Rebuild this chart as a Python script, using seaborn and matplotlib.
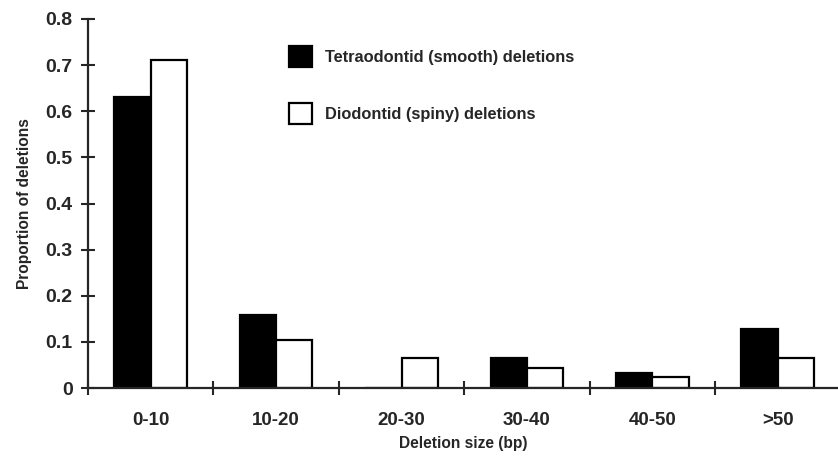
import matplotlib
matplotlib.use("Agg")
import matplotlib.pyplot as plt
import seaborn as sns
import pandas as pd
from matplotlib.patches import Patch

categories = ["0-10", "10-20", "20-30", "30-40", "40-50", ">50"]
series_names = ["Tetraodontid (smooth) deletions", "Diodontid (spiny) deletions"]
tetraodontid = [0.63, 0.158, 0.0, 0.065, 0.032, 0.128]
diodontid = [0.71, 0.105, 0.065, 0.043, 0.024, 0.065]
y_ticks = [0, 0.1, 0.2, 0.3, 0.4, 0.5, 0.6, 0.7, 0.8]
y_tick_labels = ["0", "0.1", "0.2", "0.3", "0.4", "0.5", "0.6", "0.7", "0.8"]

df = pd.DataFrame({
    "size": categories * 2,
    "prop": tetraodontid + diodontid,
    "series": [series_names[0]] * len(categories) + [series_names[1]] * len(categories),
})

sns.set_style("ticks")
plt.rcParams["font.family"] = ["Liberation Sans", "DejaVu Sans"]
plt.rcParams["font.weight"] = "bold"

fig = plt.figure(figsize=(8.38, 4.62), dpi=100)
ax = fig.add_axes([0.105, 0.16, 0.895, 0.799])

sns.barplot(data=df, x="size", y="prop", hue="series", order=categories,
            hue_order=series_names, palette=["black", "white"],
            width=0.58, edgecolor="black", linewidth=1.6, ax=ax, legend=False,
            errorbar=None, saturation=1)

ax.set_xlim(-0.5, 5.48)
ax.set_ylim(0, 0.8)
ax.set_yticks(y_ticks)
ax.set_yticklabels(y_tick_labels, fontsize=14, fontweight="bold")

# boundaries as major ticks, labels on minor ticks at category centres
ax.set_xticks([i - 0.5 for i in range(len(categories))])
ax.set_xticklabels([])
ax.set_xticks(list(range(len(categories))), minor=True)
ax.set_xticklabels(categories, minor=True, fontsize=13.5, fontweight="bold")
ax.tick_params(axis="x", which="minor", length=0, pad=17)
ax.tick_params(axis="x", which="major", direction="inout", length=10, width=1.5)
ax.tick_params(axis="y", direction="inout", length=10, width=1.5, pad=6)

for s in ["top", "right"]:
    ax.spines[s].set_visible(False)
for s in ["left", "bottom"]:
    ax.spines[s].set_linewidth(1.6)

ax.set_xlabel("Deletion size (bp)", fontsize=11.2, fontweight="bold", labelpad=5)
ax.set_ylabel("Proportion of deletions", fontsize=11.2, fontweight="bold", labelpad=10)

handles = [Patch(facecolor="black", edgecolor="black", linewidth=1.6),
           Patch(facecolor="white", edgecolor="black", linewidth=1.6)]
leg = ax.legend(handles, series_names, loc="upper left",
                bbox_to_anchor=(281 / 838, 1 - 38 / 462), bbox_transform=fig.transFigure,
                frameon=False, fontsize=11.8, handlelength=1.4, handleheight=1.6,
                labelspacing=2.2, handletextpad=0.8, borderpad=0)
for t in leg.get_texts():
    t.set_fontweight("bold")

fig.savefig("out.png", dpi=100)
